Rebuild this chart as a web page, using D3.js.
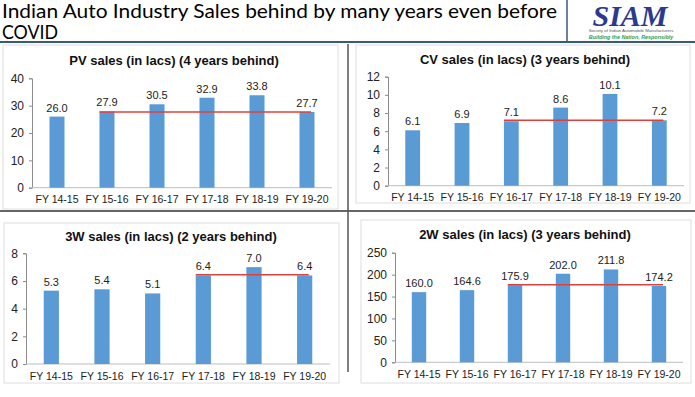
<!DOCTYPE html>
<html><head><meta charset="utf-8">
<script src="https://cdn.jsdelivr.net/npm/d3@7"></script>
<style>body{margin:0;background:#fff;}svg{display:block;}</style>
</head><body>
<script>
const categories = ["FY 14-15","FY 15-16","FY 16-17","FY 17-18","FY 18-19","FY 19-20"];
const pvValues = [26.0, 27.9, 30.5, 32.9, 33.8, 27.7];
const cvValues = [6.1, 6.9, 7.1, 8.6, 10.1, 7.2];
const w3Values = [5.3, 5.4, 5.1, 6.4, 7.0, 6.4];
const w2Values = [160.0, 164.6, 175.9, 202.0, 211.8, 174.2];
const pvTicks = [0,10,20,30,40];
const cvTicks = [0,2,4,6,8,10,12];
const w3Ticks = [0,2,4,6,8];
const w2Ticks = [0,50,100,150,200,250];
const titles = ["PV sales (in lacs) (4 years behind)","CV sales (in lacs) (3 years behind)","3W sales (in lacs) (2 years behind)","2W sales (in lacs) (3 years behind)"];
const refStart = [1, 2, 3, 2];      // category index where the red reference line starts
const refValue = [27.7, 7.2, 6.45, 177];

const W = 695, H = 397;
const svg = d3.select("body").append("svg").attr("width", W).attr("height", H);

// header (two lines in one text element)
const head = svg.append("text").attr("font-family","Lato, 'Open Sans', sans-serif")
  .attr("font-size", 19.5).attr("fill","#000");
head.append("tspan").attr("x", 2).attr("y", 18).attr("textLength", 555).attr("lengthAdjust","spacingAndGlyphs")
  .text("Indian Auto Industry Sales behind by many years even before");
head.append("tspan").attr("x", 2).attr("y", 38.5).attr("textLength", 56).attr("lengthAdjust","spacingAndGlyphs")
  .text("COVID");
svg.append("line").attr("x1",0).attr("x2",W).attr("y1",42).attr("y2",42).attr("stroke","#3a5a7c").attr("stroke-width",2);
svg.append("line").attr("x1",567).attr("x2",567).attr("y1",0).attr("y2",42).attr("stroke","#3a5a7c").attr("stroke-width",1.5);
// logo (one text element)
const logo = svg.append("text").attr("text-anchor","middle");
logo.append("tspan").attr("x", 630).attr("y", 26)
  .attr("font-family","'Liberation Serif', serif").attr("font-weight","bold").attr("font-style","italic")
  .attr("font-size", 30).attr("fill","#2b3a8f").text("SIAM");
logo.append("tspan").attr("x", 631).attr("y", 32)
  .attr("font-family","'Liberation Sans', sans-serif").attr("font-size", 4.4).attr("fill","#555")
  .text("Society of Indian Automobile Manufacturers");
logo.append("tspan").attr("x", 631).attr("y", 38.5)
  .attr("font-family","'Liberation Sans', sans-serif").attr("font-size", 5.4).attr("font-weight","bold").attr("font-style","italic")
  .attr("fill","#2e9e4a").text("Building the Nation, Responsibly");

// panel dividers
svg.append("line").attr("x1",0).attr("x2",W).attr("y1",211).attr("y2",211).attr("stroke","#333").attr("stroke-width",1.5);
svg.append("line").attr("x1",348).attr("x2",348).attr("y1",44).attr("y2",372).attr("stroke","#555").attr("stroke-width",1.5);

// panel frames
const frames = [[3,45,335,164],[356,45,334,158],[4,223,335,160],[361,220,330,163]];
frames.forEach(f => svg.append("rect").attr("x",f[0]).attr("y",f[1]).attr("width",f[2]).attr("height",f[3])
  .attr("fill","none").attr("stroke","#dedede").attr("stroke-width",1));

const charts = [
  {values: pvValues, ticks: pvTicks, x0: 32, x1: 332, yTop: 78.3, yBot: 187.7, titleX: 174, titleY: 64.5, labY: 203},
  {values: cvValues, ticks: cvTicks, x0: 388, x1: 684, yTop: 76.7, yBot: 185.7, titleX: 525, titleY: 63.5, labY: 201},
  {values: w3Values, ticks: w3Ticks, x0: 26, x1: 330, yTop: 253.3, yBot: 364, titleX: 171, titleY: 240.5, labY: 380},
  {values: w2Values, ticks: w2Ticks, x0: 395, x1: 683, yTop: 252.7, yBot: 362.3, titleX: 525, titleY: 238.5, labY: 378}
];

const FONT = "'Liberation Sans', Arial, sans-serif";
charts.forEach((c, i) => {
  const g = svg.append("g");
  const x = d3.scaleBand().domain(categories).range([c.x0, c.x1]).paddingInner(0.7).paddingOuter(0.35);
  const y = d3.scaleLinear().domain([c.ticks[0], c.ticks[c.ticks.length-1]]).range([c.yBot, c.yTop]);

  g.append("text").attr("x", c.titleX).attr("y", c.titleY).attr("text-anchor","middle")
    .attr("font-family",FONT).attr("font-weight","bold").attr("font-size",13)
    .attr("fill","#111").text(titles[i]);

  // y axis
  const yAx = g.append("g").attr("transform",`translate(${c.x0},0)`)
    .call(d3.axisLeft(y).tickValues(c.ticks).tickSize(3).tickPadding(5).tickFormat(d3.format("d")));
  yAx.select(".domain").attr("stroke","#8c8c8c");
  yAx.selectAll(".tick line").attr("stroke","#8c8c8c");
  yAx.selectAll("text").attr("font-family",FONT).attr("font-size",12).attr("fill","#222");

  // x axis line
  g.append("line").attr("x1", c.x0).attr("x2", c.x1).attr("y1", c.yBot).attr("y2", c.yBot).attr("stroke","#bdbdbd");

  // bars
  g.selectAll("rect.bar").data(c.values).join("rect").attr("class","bar")
    .attr("x",(d,j)=>x(categories[j])).attr("width",x.bandwidth())
    .attr("y",d=>y(d)).attr("height",d=>c.yBot - y(d)).attr("fill","#5b9bd5");

  // value labels
  g.selectAll("text.val").data(c.values).join("text").attr("class","val")
    .attr("x",(d,j)=>x(categories[j]) + x.bandwidth()/2).attr("y",d=>y(d) - 5)
    .attr("text-anchor","middle").attr("font-family",FONT)
    .attr("font-size",11).attr("fill","#222").text(d=>d.toFixed(1));

  // category labels
  g.selectAll("text.cat").data(categories).join("text").attr("class","cat")
    .attr("x",d=>x(d) + x.bandwidth()/2).attr("y",c.labY)
    .attr("text-anchor","middle").attr("font-family",FONT)
    .attr("font-size",10.5).attr("fill","#222").text(d=>d);

  // red reference line
  const last = categories[categories.length-1];
  g.append("line").attr("x1", x(categories[refStart[i]])).attr("x2", x(last) + x.bandwidth()/2 + 4)
    .attr("y1", y(refValue[i])).attr("y2", y(refValue[i])).attr("stroke","#e0403c").attr("stroke-width",1.5);
});
</script>
</body></html>
